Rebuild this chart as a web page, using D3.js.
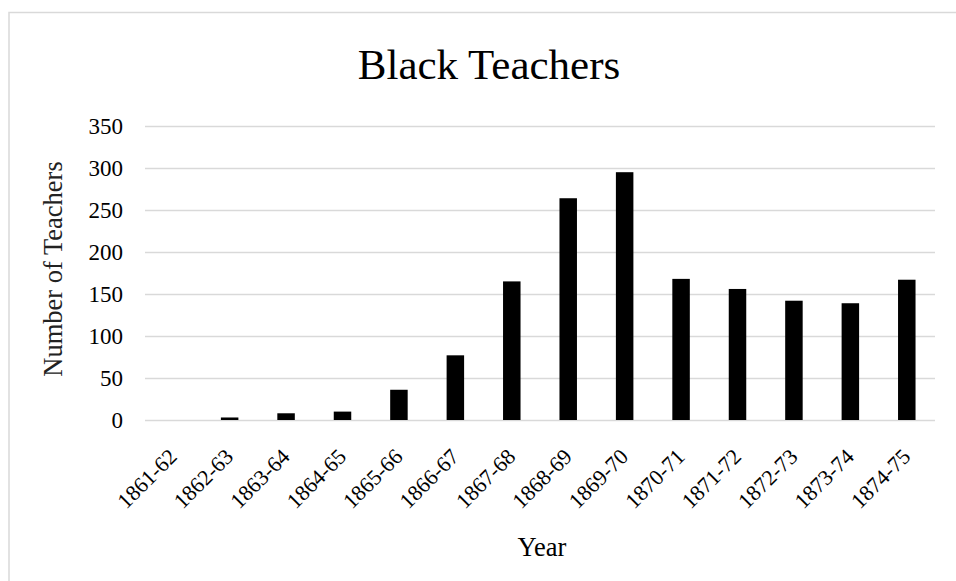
<!DOCTYPE html>
<html>
<head>
<meta charset="utf-8">
<script src="https://cdn.jsdelivr.net/npm/d3@7"></script>
<style>
  html, body { margin: 0; padding: 0; background: #fff; }
  svg { display: block; font-family: "Liberation Serif", "Times New Roman", serif; }
</style>
</head>
<body>
<svg id="chart" width="956" height="581"></svg>
<script>
const categories = ["1861-62","1862-63","1863-64","1864-65","1865-66","1866-67","1867-68","1868-69","1869-70","1870-71","1871-72","1872-73","1873-74","1874-75"];
const teachers = [0, 3, 8, 10, 36, 77, 165, 264, 295, 168, 156, 142, 139, 167];
const yTicks = [0, 50, 100, 150, 200, 250, 300, 350];
const chartTitle = "Black Teachers";
const xTitle = "Year";
const yTitle = "Number of Teachers";

const svg = d3.select("#chart");
const m = { left: 145, right: 935, top: 126, bottom: 420 };

// chart area border
svg.append("rect")
  .attr("x", 9).attr("y", 12.5)
  .attr("width", 960).attr("height", 600)
  .attr("fill", "#fff").attr("stroke", "#d9d9d9").attr("stroke-width", 1.5);

const x = d3.scaleBand().domain(categories).range([m.left, m.right]).paddingInner(0.69).paddingOuter(0.345);
const y = d3.scaleLinear().domain([0, 350]).range([m.bottom, m.top]);

// gridlines
const grid = svg.append("g")
  .attr("transform", `translate(${m.left},0)`)
  .call(d3.axisLeft(y).tickValues(yTicks).tickSize(-(m.right - m.left)).tickFormat(""));
grid.select(".domain").remove();
grid.selectAll("line").attr("stroke", "#d9d9d9").attr("stroke-width", 1.5);

// y tick labels
const yAxis = svg.append("g")
  .attr("transform", `translate(${m.left},0)`)
  .call(d3.axisLeft(y).tickValues(yTicks).tickSize(0).tickPadding(22));
yAxis.select(".domain").remove();
yAxis.selectAll("text")
  .attr("font-family", "Liberation Serif, Times New Roman, serif")
  .attr("font-size", 23).attr("fill", "#000");

// bars
svg.append("g").selectAll("rect")
  .data(teachers)
  .join("rect")
  .attr("x", (d, i) => x(categories[i]))
  .attr("width", x.bandwidth())
  .attr("y", d => y(d))
  .attr("height", d => y(0) - y(d))
  .attr("fill", "#000");

// x category labels
const xAxis = svg.append("g")
  .attr("transform", `translate(0,${m.bottom})`)
  .call(d3.axisBottom(x).tickSize(0).tickPadding(0));
xAxis.select(".domain").remove();
xAxis.selectAll("text")
  .attr("font-family", "Liberation Serif, Times New Roman, serif")
  .attr("font-size", 22).attr("fill", "#000")
  .attr("text-anchor", "end")
  .attr("dy", 0)
  .attr("y", 0)
  .attr("transform", "translate(5,38) rotate(-45)");

// titles
svg.append("text")
  .attr("x", 489).attr("y", 79)
  .attr("text-anchor", "middle")
  .attr("font-size", 43).attr("fill", "#000")
  .text(chartTitle);

svg.append("text")
  .attr("x", 542).attr("y", 556)
  .attr("text-anchor", "middle")
  .attr("font-size", 26.5).attr("fill", "#000")
  .text(xTitle);

svg.append("text")
  .attr("transform", `translate(62,269) rotate(-90)`)
  .attr("text-anchor", "middle")
  .attr("font-size", 26.5).attr("fill", "#222")
  .text(yTitle);
</script>
</body>
</html>
